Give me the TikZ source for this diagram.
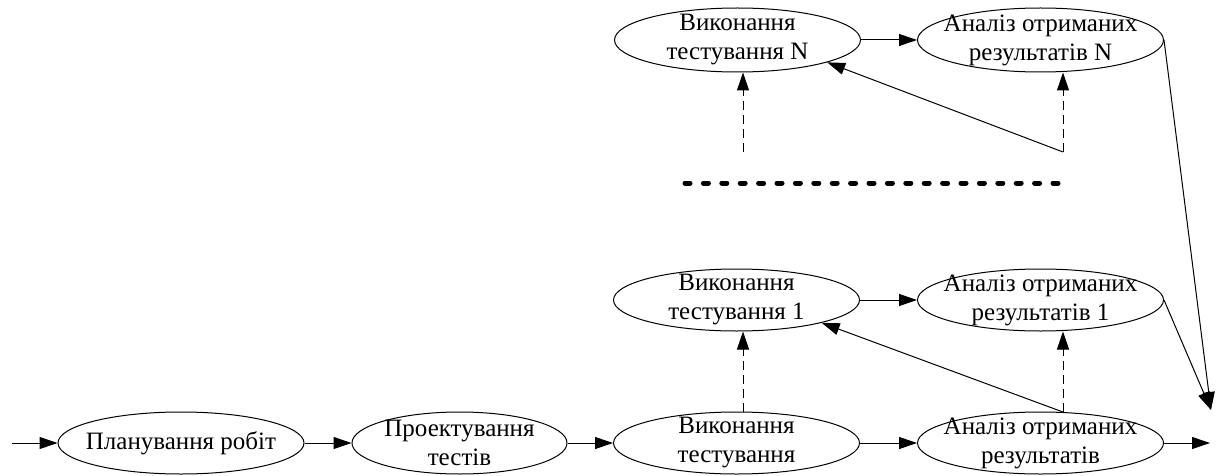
\documentclass[tikz,border=0pt]{standalone}
\usepackage{fontspec}
\setmainfont{Liberation Serif}
\usetikzlibrary{shapes.geometric,arrows.meta}

\tikzset{
  stage/.style={draw, ellipse, line width=1pt, minimum width=246pt,
    minimum height=62pt, inner xsep=-40pt, inner ysep=-10pt,
    align=center, font=\fontsize{25}{29}\selectfont},
  flow/.style={-{Triangle[length=18pt,width=12pt]}, line width=1pt},
  feed/.style={flow, dash pattern=on 9pt off 5pt},
  gap/.style={line width=5pt, line cap=round, dash pattern=on 5pt off 13.4pt}
}

\begin{document}
\begin{tikzpicture}[x=1pt,y=-1pt]
    \useasboundingbox (0,0) rectangle (1217,476);

    % Main line
    \node[stage] (plan) at (181,443) {Планування робіт};
    \node[stage, minimum width=215pt] (design) at (459.5,443) {Проектування\\тестів};
    \node[stage] (exec) at (736.5,443) {Виконання\\тестування};
    \node[stage] (anal) at (1040.5,443) {Аналіз отриманих\\результатів};

    % First run
    \node[stage] (exec1) at (736.5,300) {Виконання\\тестування 1};
    \node[stage] (anal1) at (1040.5,300) {Аналіз отриманих\\результатів 1};

    % Last run
    \node[stage, minimum height=64pt] (execN) at (737.5,40) {Виконання\\тестування N};
    \node[stage, minimum height=64pt] (analN) at (1040.5,40) {Аналіз отриманих\\результатів N};

    % Free ends
    \coordinate (in) at (12,443);
    \coordinate (out) at (1210,443);
    \coordinate (join) at (1211,410);
    \coordinate (srcA) at (743,152);
    \coordinate (srcB) at (1063,152);
    \coordinate (dotsL) at (685,183);
    \coordinate (dotsR) at (1058,183);

    % Main flow
    \draw[flow] (in) -- (plan);
    \draw[flow] (plan) -- (design);
    \draw[flow] (design) -- (exec);
    \draw[flow] (exec) -- (anal);
    \draw[flow] (anal) -- (out);

    % Runs
    \draw[flow] (exec1) -- (anal1);
    \draw[flow] (execN) -- (analN);
    \draw[feed] (srcA |- exec.north) -- (srcA |- exec1.south);
    \draw[feed] (anal.54) -- (anal.54 |- anal1.south);
    \draw[flow] (anal.54) -- (exec1.-15);
    \draw[feed] (srcA) -- (srcA |- execN.south);
    \draw[feed] (srcB) -- (srcB |- analN.south);
    \draw[flow] (srcB) -- (execN.-14);

    % Results
    \draw[flow] (anal1.east) -- (join);
    \draw[flow] (analN.east) -- (join);

    % Skipped runs
    \draw[gap] (dotsL) -- (dotsR);
\end{tikzpicture}
\end{document}
